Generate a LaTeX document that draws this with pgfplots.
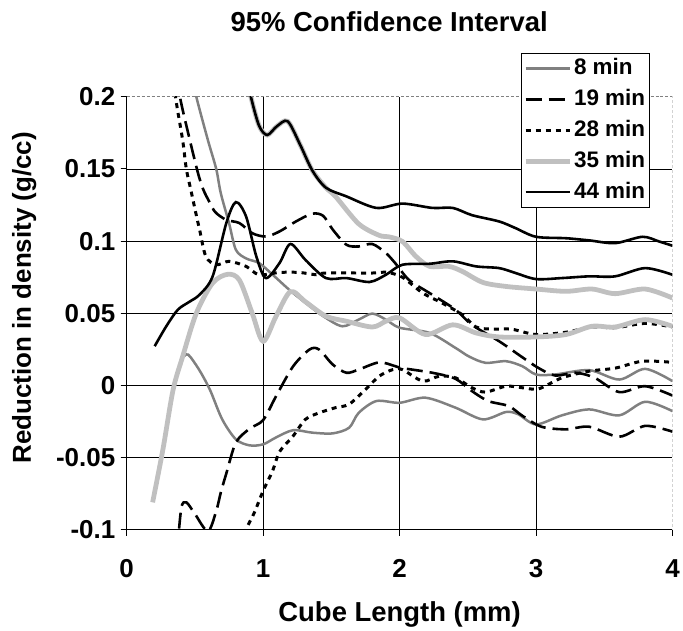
\documentclass[border=0pt]{standalone}
\usepackage{fontspec}
\setmainfont{Liberation Sans}
\usepackage{pgfplots}
\pgfplotsset{compat=1.18}
\definecolor{grA}{RGB}{128,128,128}
\definecolor{grB}{RGB}{192,192,192}
\begin{document}
\begin{tikzpicture}
\begin{axis}[
  scale only axis, width=547pt, height=434pt,
  xmin=0, xmax=4, ymin=-0.1, ymax=0.2,
  axis x line*=bottom, axis y line*=left,
  axis line style={-, black, line width=0.9pt},
  xtick={0,1,2,3,4}, xticklabels={0,1,2,3,4},
  ytick={-0.1,-0.05,0,0.05,0.1,0.15,0.2},
  yticklabels={-0.1,-0.05,0,0.05,0.1,0.15,0.2},
  tick align=outside, major tick length=6pt,
  tick style={black, line width=0.9pt},
  every tick label/.append style={font=\fontsize{26}{26}\selectfont\bfseries},
  xticklabel style={yshift=-20pt},
  yticklabel style={xshift=-2pt},
  extra x ticks={1,2,3}, extra x tick labels={},
  extra y ticks={-0.1,-0.05,0,0.05,0.1,0.15}, extra y tick labels={},
  extra tick style={grid=major},
  major grid style={black, line width=0.8pt},
  title={95\% Confidence Interval},
  title style={font=\fontsize{27.5}{27.5}\selectfont\bfseries, at={(axis description cs:0.481,1.159)}, anchor=center},
  xlabel={Cube Length (mm)},
  xlabel style={font=\fontsize{27.5}{27.5}\selectfont\bfseries, at={(axis description cs:0.5,-0.196)}, anchor=center},
  ylabel={Reduction in density (g/cc)},
  ylabel style={font=\fontsize{26}{26}\selectfont\bfseries, at={(axis description cs:-0.188,0.536)}, anchor=center},
  legend style={at={(0.958,1.101)}, anchor=north east, draw=black, line width=0.8pt, fill=white,
    font=\fontsize{22.5}{22.5}\selectfont\bfseries, inner xsep=2pt, inner ysep=3pt, row sep=7pt,
    nodes={inner sep=2pt, text height=16pt, text depth=4pt}},
  legend cell align=left,
  legend image code/.code={\draw[#1] (0pt,0pt) -- (44pt,0pt);},
  every axis plot/.append style={smooth, tension=0.5},
]
\coordinate (ll) at (rel axis cs:0,0);
\coordinate (ur) at (rel axis cs:1,1);
% 8 min
\addplot[grA, line width=2.5pt] coordinates {
(0.45,0.225) (0.51,0.200) (0.595,0.170) (0.656,0.150) (0.69,0.133) (0.75,0.1125) (0.80,0.094)
(0.875,0.088) (0.97,0.0848) (1.07,0.0767) (1.19,0.0664) (1.31,0.0572) (1.44,0.048) (1.58,0.041)
(1.70,0.0456) (1.80,0.0498) (1.90,0.0456) (2.00,0.040) (2.22,0.0364) (2.41,0.026) (2.51,0.020)
(2.63,0.0157) (2.78,0.0168) (2.90,0.0133) (3.00,0.0076) (3.14,0.0076) (3.39,0.0106) (3.61,0.0041)
(3.80,0.0115) (4.00,0.003)};
\addlegendentry{8 min}
\addplot[grA, line width=2.5pt, forget plot] coordinates {
(0.41,0.019) (0.45,0.0214) (0.53,0.011) (0.61,-0.003) (0.70,-0.0235) (0.80,-0.0373) (0.90,-0.0415)
(1.00,-0.0408) (1.095,-0.036) (1.22,-0.031) (1.36,-0.0327) (1.51,-0.0332) (1.63,-0.0293) (1.70,-0.019)
(1.83,-0.0108) (2.00,-0.012) (2.19,-0.0085) (2.41,-0.0154) (2.61,-0.0235) (2.78,-0.0184) (2.87,-0.020)
(3.00,-0.027) (3.19,-0.0207) (3.39,-0.0166) (3.61,-0.0207) (3.80,-0.0113) (4.00,-0.0178)};
% 19 min
\addplot[black, line width=2.6pt, dash pattern=on 16pt off 7pt] coordinates {
(0.34,0.23) (0.39,0.200) (0.45,0.175) (0.52,0.148) (0.56,0.136) (0.607,0.127) (0.65,0.120)
(0.73,0.1147) (0.826,0.1125) (0.92,0.1055) (1.02,0.1032) (1.12,0.1067) (1.24,0.1136) (1.36,0.119)
(1.44,0.1175) (1.51,0.108) (1.61,0.0975) (1.70,0.0963) (1.80,0.098) (1.90,0.0917) (1.97,0.0845)
(2.07,0.073) (2.22,0.064) (2.41,0.0525) (2.53,0.042) (2.73,0.0306) (2.90,0.0195) (3.02,0.012)
(3.14,0.0069) (3.29,0.0088) (3.43,0.0053) (3.61,-0.0046) (3.80,-0.0005) (4.00,-0.007)};
\addlegendentry{19 min}
\addplot[black, line width=2.6pt, dash pattern=on 16pt off 7pt, forget plot] coordinates {
(0.37,-0.115) (0.40,-0.085) (0.437,-0.081) (0.50,-0.089) (0.595,-0.101) (0.656,-0.087) (0.69,-0.074)
(0.73,-0.061) (0.80,-0.0396) (0.90,-0.030) (1.00,-0.024) (1.095,-0.0074) (1.22,0.0133) (1.34,0.0249)
(1.41,0.0249) (1.51,0.0145) (1.61,0.0088) (1.70,0.011) (1.85,0.016) (1.97,0.0133) (2.02,0.012)
(2.24,0.0088) (2.41,0.0046) (2.53,-0.0039) (2.65,-0.0108) (2.80,-0.0143) (2.90,-0.021) (3.04,-0.0286)
(3.22,-0.0304) (3.39,-0.0286) (3.61,-0.0355) (3.80,-0.028) (4.00,-0.032)};
% 28 min
\addplot[black, line width=3pt, dash pattern=on 5pt off 5pt] coordinates {
(0.33,0.23) (0.358,0.200) (0.41,0.170) (0.437,0.150) (0.47,0.1355) (0.51,0.118) (0.534,0.108)
(0.58,0.0894) (0.656,0.0836) (0.75,0.086) (0.875,0.0825) (0.97,0.0767) (1.12,0.0783) (1.265,0.0783)
(1.39,0.0767) (1.46,0.0779) (1.80,0.0779) (1.90,0.0785) (2.02,0.075) (2.17,0.064) (2.31,0.0572)
(2.46,0.049) (2.56,0.0405) (2.68,0.039) (2.82,0.039) (3.00,0.0353) (3.22,0.0369) (3.41,0.0405)
(3.58,0.040) (3.80,0.043) (4.00,0.0405)};
\addlegendentry{28 min}
\addplot[black, line width=3pt, dash pattern=on 5pt off 5pt, forget plot] coordinates {
(0.86,-0.11) (0.875,-0.100) (0.936,-0.088) (1.00,-0.073) (1.07,-0.059) (1.12,-0.046) (1.22,-0.035)
(1.31,-0.0235) (1.41,-0.019) (1.53,-0.0154) (1.63,-0.013) (1.75,-0.0028) (1.85,0.0064) (1.95,0.011)
(2.02,0.011) (2.17,0.003) (2.29,0.0064) (2.41,0.0053) (2.53,-0.0016) (2.63,-0.0046) (2.78,-0.0005)
(2.90,-0.0016) (3.02,-0.0023) (3.19,0.0053) (3.39,0.0099) (3.58,0.012) (3.78,0.0168) (4.00,0.016)};
% 35 min
\addplot[grB, line width=4.8pt] coordinates {
(0.88,0.215) (0.91,0.200) (0.97,0.180) (1.03,0.1735) (1.10,0.1795) (1.18,0.183) (1.27,0.167)
(1.36,0.149) (1.46,0.137) (1.53,0.131) (1.70,0.112) (1.85,0.104) (1.92,0.103) (2.02,0.0998)
(2.12,0.0894) (2.22,0.0825) (2.36,0.0825) (2.46,0.079) (2.61,0.0714) (2.78,0.0686) (3.00,0.0668)
(3.22,0.0652) (3.41,0.0668) (3.58,0.0636) (3.80,0.0668) (4.00,0.0606)};
\addlegendentry{35 min}
\addplot[grB, line width=4.8pt, forget plot] coordinates {
(0.19,-0.081) (0.266,-0.044) (0.34,-0.003) (0.41,0.020) (0.51,0.050) (0.63,0.071) (0.74,0.077)
(0.826,0.073) (0.92,0.050) (1.00,0.0306) (1.095,0.048) (1.20,0.065) (1.31,0.058) (1.46,0.048)
(1.61,0.0445) (1.80,0.0405) (1.90,0.0445) (2.00,0.0468) (2.19,0.0353) (2.39,0.042) (2.56,0.0364)
(2.73,0.0336) (3.00,0.0336) (3.22,0.0353) (3.41,0.041) (3.58,0.0405) (3.80,0.0456) (4.00,0.041)};
% 44 min
\addplot[black, line width=2.6pt] coordinates {
(0.88,0.215) (0.91,0.200) (0.97,0.180) (1.03,0.1735) (1.10,0.1795) (1.18,0.183) (1.27,0.167)
(1.36,0.149) (1.46,0.137) (1.61,0.131) (1.83,0.123) (2.02,0.126) (2.24,0.123) (2.39,0.123)
(2.53,0.118) (2.73,0.1136) (2.85,0.109) (3.00,0.103) (3.22,0.102) (3.39,0.1005) (3.58,0.0986)
(3.78,0.103) (3.90,0.0998) (4.00,0.0968)};
\addlegendentry{44 min}
\addplot[black, line width=2.6pt, forget plot] coordinates {
(0.205,0.0272) (0.29,0.041) (0.375,0.0525) (0.46,0.058) (0.534,0.0629) (0.63,0.0756) (0.73,0.1125)
(0.80,0.127) (0.875,0.117) (0.95,0.0894) (1.02,0.0744) (1.12,0.0848) (1.20,0.098) (1.31,0.087)
(1.46,0.0744) (1.61,0.0744) (1.78,0.0717) (1.90,0.0767) (2.02,0.0836) (2.22,0.0843) (2.39,0.086)
(2.56,0.0825) (2.73,0.0813) (2.85,0.0779) (3.00,0.0737) (3.19,0.0744) (3.39,0.0756) (3.58,0.0756)
(3.80,0.0813) (4.00,0.0767)};
\draw[gray, line width=0.9pt, dash pattern=on 3pt off 2pt] (rel axis cs:0,1) -- (rel axis cs:1,1) -- (rel axis cs:1,0);
\end{axis}
\path ([shift={(-127pt,-99pt)}]ll) rectangle ([shift={(9pt,97pt)}]ur);
\end{tikzpicture}
\end{document}
